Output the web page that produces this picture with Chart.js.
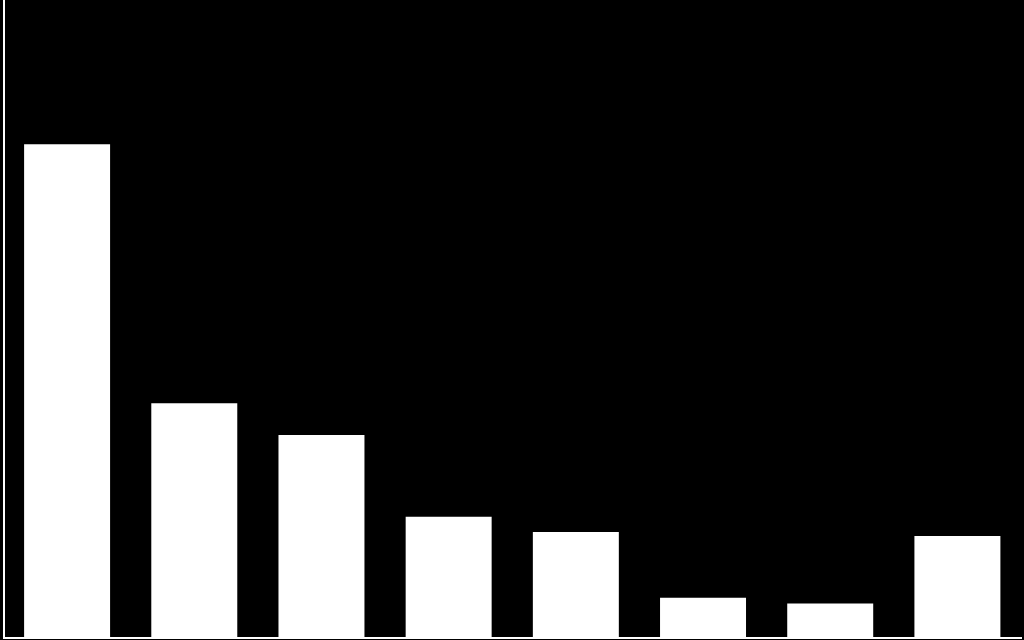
<!DOCTYPE html>
<html>
<head>
<meta charset="utf-8">
<script src="https://cdn.jsdelivr.net/npm/chart.js@4"></script>
<style>
  html, body { margin: 0; padding: 0; background: #000; }
  #wrap { width: 1024px; height: 640px; }
</style>
</head>
<body>
<div id="wrap"><canvas id="barChart"></canvas></div>
<script>
// data
const categories = ['1', '2', '3', '4', '5', '6', '7', '8'];
const values = [77.4, 36.8, 31.8, 19.0, 16.6, 6.3, 5.4, 16.0];
const yMax = 100;

const ctx = document.getElementById('barChart').getContext('2d');
new Chart(ctx, {
    type: 'bar',
    data: {
        labels: categories,
        datasets: [{
            data: values,
            backgroundColor: '#ffffff',
            borderWidth: 0,
            barPercentage: 0.676,
            categoryPercentage: 1
        }]
    },
    options: {
        responsive: true,
        maintainAspectRatio: false,
        animation: false,
        layout: { padding: { left: 3.5, right: 3, top: 0, bottom: 2 } },
        plugins: {
            legend: { display: false },
            tooltip: { enabled: false }
        },
        scales: {
            x: {
                grid: { display: false, drawTicks: false, tickLength: 0 },
                ticks: { display: false, padding: 0 },
                border: { display: true, color: '#ffffff', width: 2 }
            },
            y: {
                min: 0,
                max: yMax,
                grid: { display: false, drawTicks: false, tickLength: 0 },
                ticks: { display: false, padding: 0 },
                border: { display: true, color: '#ffffff', width: 2 }
            }
        }
    }
});
</script>
</body>
</html>
